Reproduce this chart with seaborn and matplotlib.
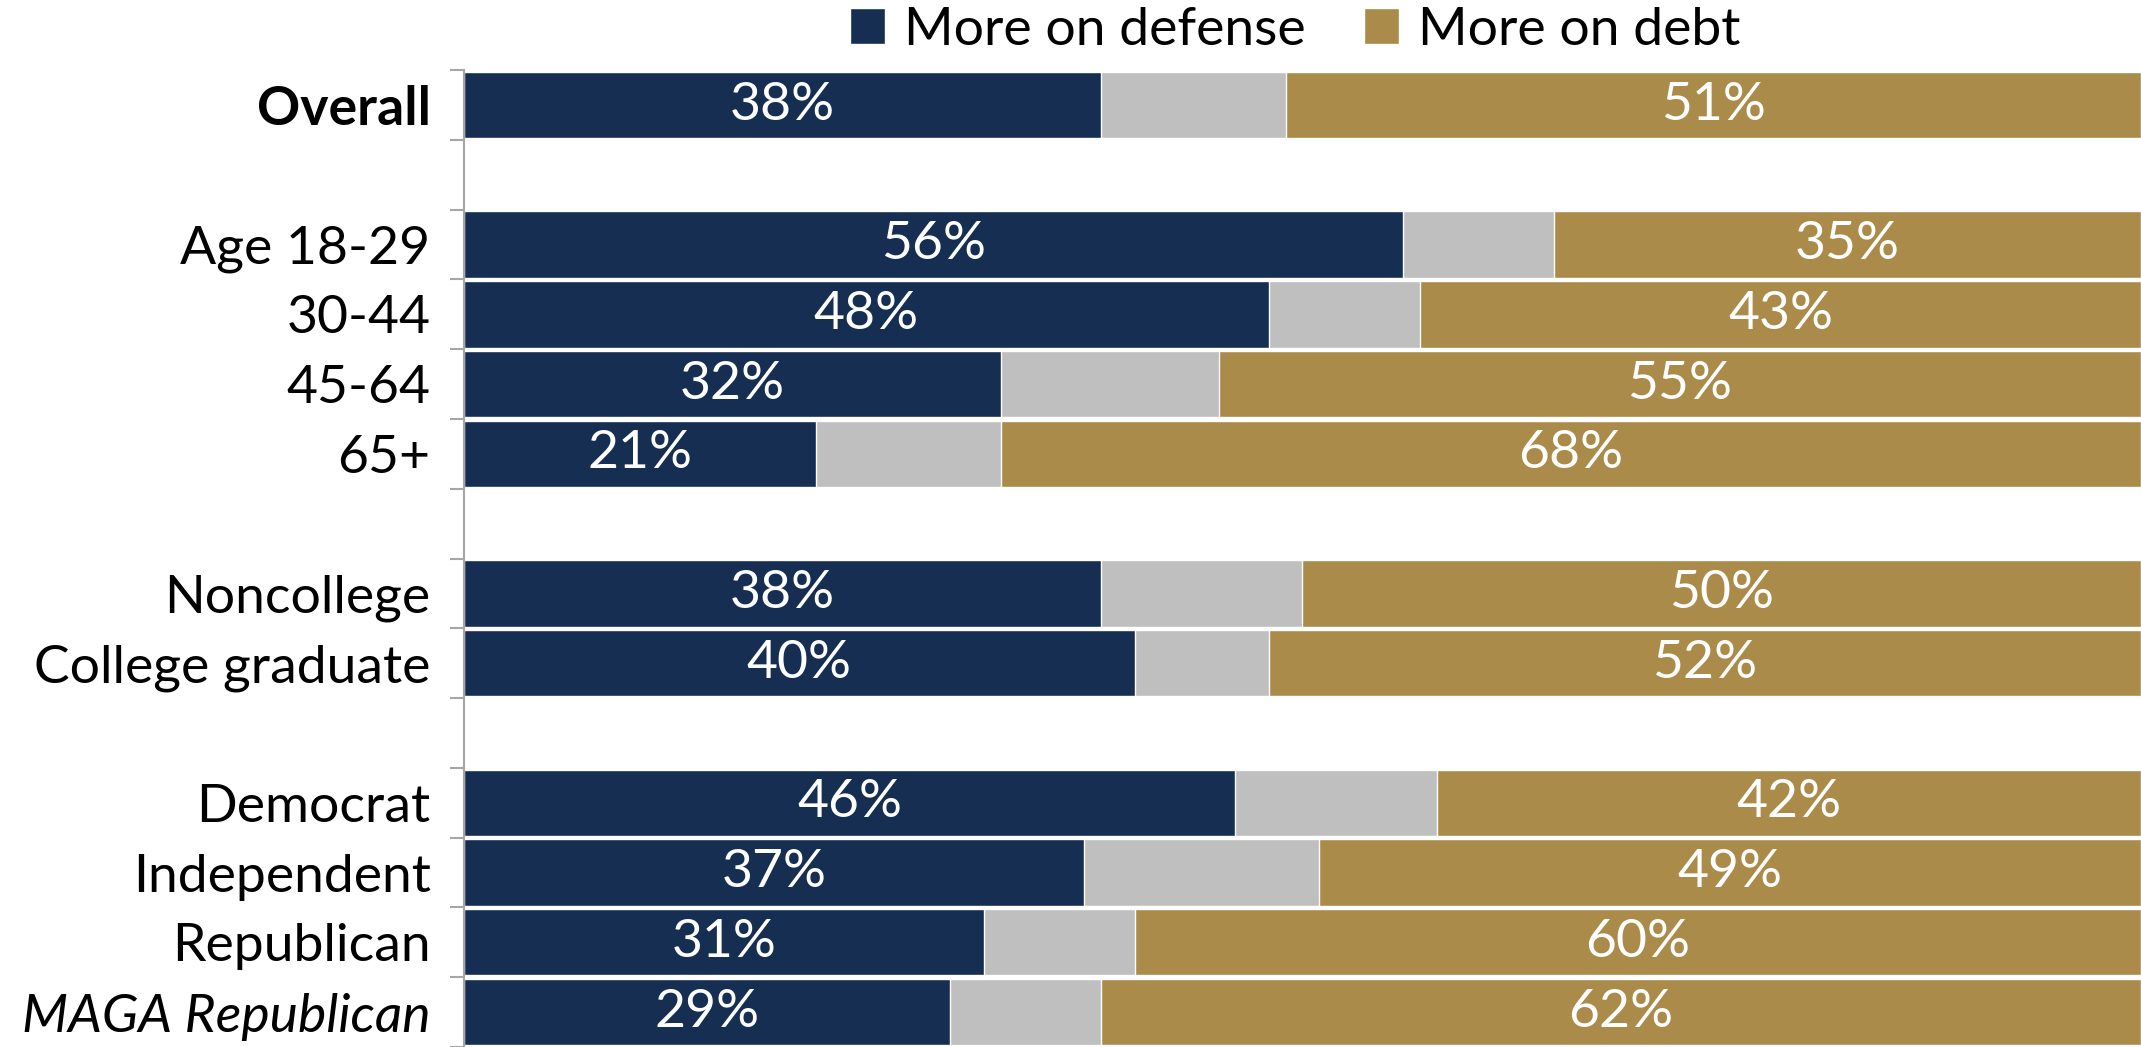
import numpy as np
import pandas as pd
import seaborn as sns
import matplotlib.pyplot as plt
from matplotlib.patches import Patch

# rows in drawing order; None marks a blank spacer slot
groups = ["Overall", None, "Age 18-29", "30-44", "45-64", "65+", None,
          "Noncollege", "College graduate", None,
          "Democrat", "Independent", "Republican", "MAGA Republican"]
labels = ["Overall", "Age 18-29", "30-44", "45-64", "65+",
          "Noncollege", "College graduate",
          "Democrat", "Independent", "Republican", "MAGA Republican"]
defense = [38, 56, 48, 32, 21, 38, 40, 46, 37, 31, 29]
neutral = [11, 9, 9, 13, 11, 12, 8, 12, 14, 9, 9]
debt = [51, 35, 43, 55, 68, 50, 52, 42, 49, 60, 62]

NAVY = "#162E51"
GREY = "#BFBFBF"
GOLD = "#AB8B4A"

df = pd.DataFrame({"group": labels, "defense": defense, "neutral": neutral, "debt": debt})
df["mid"] = df["defense"] + df["neutral"]
df["total"] = df["mid"] + df["debt"]

order = []
spacer = 0
for g in groups:
    if g is None:
        spacer += 1
        order.append("_sp%d" % spacer)
    else:
        order.append(g)

sns.set_style("white")
plt.rcParams["font.family"] = ["Lato", "DejaVu Sans"]
plt.rcParams["text.color"] = "black"
plt.rcParams["ytick.color"] = "black"

fig = plt.figure(figsize=(21.41, 10.47), dpi=100)
ax = fig.add_axes([0.2167, 0.0, 0.7833, 0.933])

# cumulative overlap to get stacked bars
sns.barplot(data=df, y="group", x="total", order=order, color=GOLD, width=0.95,
            saturation=1, orient="h", ax=ax)
sns.barplot(data=df, y="group", x="mid", order=order, color=GREY, width=0.95,
            saturation=1, orient="h", ax=ax)
sns.barplot(data=df, y="group", x="defense", order=order, color=NAVY, width=0.95,
            saturation=1, orient="h", ax=ax)

ax.set_xlim(0, 100)
ax.set_ylim(len(order) - 0.5, -0.5)
ax.set_xlabel("")
ax.set_ylabel("")
ax.set_xticks([])

FS = 38.5
for _, r in df.iterrows():
    y = order.index(r["group"])
    ax.text(r["defense"] / 2, y, "%d%%" % r["defense"], color="white",
            ha="center", va="center", fontsize=FS)
    ax.text(r["mid"] + r["debt"] / 2, y, "%d%%" % r["debt"], color="white",
            ha="center", va="center", fontsize=FS)

ax.set_yticks(range(len(order)))
ax.set_yticklabels(["" if o.startswith("_sp") else o for o in order], fontsize=FS,
                   color="black")
ax.tick_params(axis="y", which="major", left=False, length=0, pad=24)
ax.set_yticks(np.arange(len(order) + 1) - 0.5, minor=True)
ax.tick_params(axis="y", which="minor", left=True, length=10, width=1.5,
               color="#A6A6A6")
for t in ax.get_yticklabels():
    if t.get_text() == "Overall":
        t.set_fontweight("bold")
    if t.get_text() == "MAGA Republican":
        t.set_fontstyle("italic")

for s in ["top", "right", "bottom"]:
    ax.spines[s].set_visible(False)
ax.spines["left"].set_color("#A6A6A6")
ax.spines["left"].set_linewidth(1.5)

handles = [Patch(facecolor=NAVY, label="More on defense"),
           Patch(facecolor=GOLD, label="More on debt")]
fig.legend(handles=handles, loc="center", bbox_to_anchor=(0.605, 0.971), ncol=2,
           frameon=False, fontsize=FS, handlelength=0.65, handleheight=0.65,
           handletextpad=0.35, columnspacing=1.1)

fig.savefig("out.png", dpi=100)
